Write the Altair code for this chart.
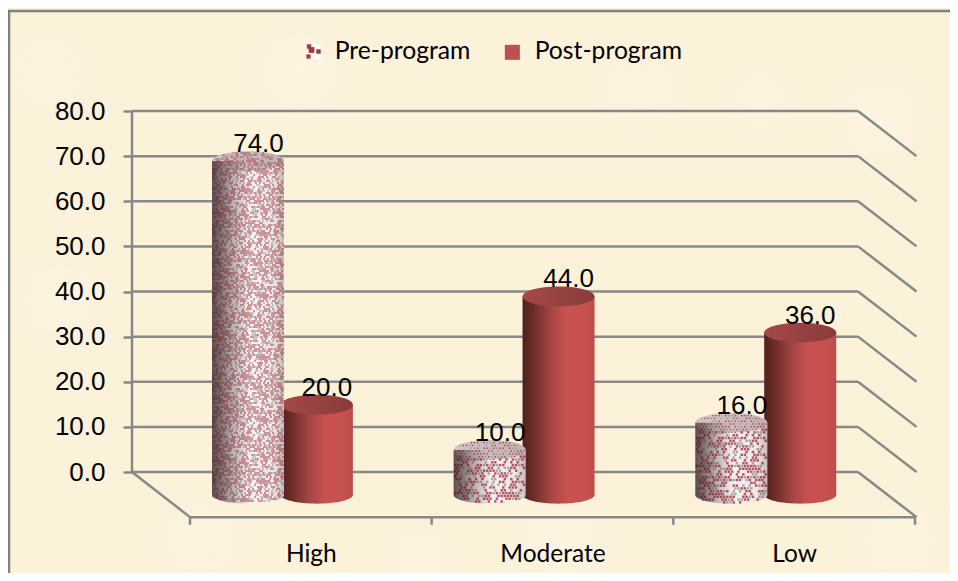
import math
import altair as alt
import pandas as pd

# ---- values ----
categories = ["High", "Moderate", "Low"]
pre_values = [74.0, 10.0, 16.0]
post_values = [20.0, 44.0, 36.0]
series_names = ["Pre-program", "Post-program"]
tick_values = [0, 10, 20, 30, 40, 50, 60, 70, 80]

# ---- layout / style ----
W, H = 942, 565
OX, OY = 8, 8
PX_U = 241.67   # px per category
PX_V = 4.5125   # px per value unit
U0_PX, V0_PY = 190, 472
CREAM = "#fcf1d9"
GRID = "#888888"
DEPTH = 23
R = 36
CAP = 0.275
BASE = 0.24
PRE_C, POST_C = 0.24, 0.525
COL_W = 72 / PX_U
WALL = -58 / PX_U


def ux(px):
    return (px - U0_PX) / PX_U


def vy(py):
    return (V0_PY - py) / PX_V


x_scale = alt.Scale(domain=[ux(OX), ux(OX + W)], nice=False, zero=False)
y_scale = alt.Scale(domain=[vy(OY + H), vy(OY)], nice=False, zero=False)

x_axis = alt.Axis(
    values=[0.5, 1.5, 2.5], offset=-(OY + H - 517), domain=False, grid=False, ticks=False, zindex=1,
    labelExpr="['High','Moderate','Low'][datum.value - 0.5]",
    labelPadding=25, labelFontSize=24.5, labelFont="Lato", labelColor="#000000", title=None)
y_axis = alt.Axis(
    values=tick_values, format=".1f", offset=-(132 - OX), domain=False, grid=False, zindex=1,
    tickSize=9, tickColor=GRID, tickWidth=2.5, labelPadding=18,
    labelFontSize=26, labelFont="Liberation Sans", labelColor="#000000", title=None)


def X(f):
    return alt.X(f, type="quantitative", scale=x_scale, axis=x_axis)


def X2(f):
    return alt.X2(f)


def Y(f):
    return alt.Y(f, type="quantitative", scale=y_scale, axis=y_axis)


def grad(stops):
    return alt.LinearGradient(
        gradient="linear", x1=0, x2=1, y1=0, y2=0,
        stops=[alt.GradientStop(color=c, offset=o) for o, c in stops],
    )


POST_SIDE = grad([(0, "#4f201f"), (0.14, "#6b2b2a"), (0.4, "#a54644"), (0.62, "#c95250"), (0.92, "#c4504e"), (1, "#b94d4a")])
POST_CAP = grad([(0, "#a64846"), (0.5, "#974241"), (1, "#893b3a")])
PRE_SIDE = grad([(0, "#b3a6a7"), (0.2, "#d4c9c9"), (0.55, "#f7f2f2"), (0.85, "#efe6e6"), (1, "#dcd2d2")])
PRE_CAP = grad([(0, "#d3c4c5"), (1, "#c4b2b3")])
PRE_SHADE = grad([(0, "rgba(45,25,25,0.62)"), (0.12, "rgba(45,25,25,0.45)"), (0.3, "rgba(45,25,25,0.18)"), (0.5, "rgba(45,25,25,0)"), (0.85, "rgba(45,25,25,0)"), (1, "rgba(45,25,25,0.12)")])
SPOT = alt.RadialGradient(
    gradient="radial", r1=0, r2=0.5,
    stops=[alt.GradientStop(color="rgba(255,250,242,0.32)", offset=0),
           alt.GradientStop(color="rgba(255,250,242,0)", offset=1)],
)

ELL_CAP = f"M-1,0A1,{CAP},0,1,1,1,0A1,{CAP},0,1,1,-1,0Z"
HALF_BASE = f"M-1,0A1,{BASE},0,0,0,1,0Z"
CIRCLE_BOX = "M-1,-1H1V1H-1Z"

# ---- tables ----
bars = pd.DataFrame({
    "cat": [i + 0.5 for i in range(3)],
    "pre": pre_values,
    "post": post_values,
})
bars["i"] = range(3)
bars["zero"] = 0
bars["pre_c"] = bars["i"] + PRE_C
bars["post_c"] = bars["i"] + POST_C
bars["pre_l"] = bars["pre_c"] - COL_W / 2
bars["pre_r"] = bars["pre_c"] + COL_W / 2
bars["post_l"] = bars["post_c"] - COL_W / 2
bars["post_r"] = bars["post_c"] + COL_W / 2
bars["pre_lab"] = bars["pre_c"] + 10.5 / PX_U
bars["post_lab"] = bars["post_c"] + 10 / PX_U

walls = pd.DataFrame({"v": tick_values})
walls["a"] = WALL
walls["b"] = ux(858)
walls["c"] = ux(916.5)
walls["v2"] = walls["v"] - 10

# stipple of the pre-program cylinders, one lattice per cylinder
reds, greys = [], []
for i, v in enumerate(pre_values):
    px = 2.0 if v > 50 else 3.2
    py = 2.0 if v > 50 else 2.8
    sz = 2.4 if v > 50 else 6.0
    top = -v * PX_V
    n_rows = int((-top + 20) / py) + 2
    for r in range(n_rows):
        dy = top - 10 + r * py
        for c in range(int(2 * R / px) + 2):
            dx = -R + c * px + (px / 2 if r % 2 else 0)
            if abs(dx) >= R - 0.8:
                continue
            q = math.sqrt(1 - (dx / R) ** 2)
            if dy < top - CAP * R * q + 0.8 or dy > BASE * R * q - 0.8:
                continue
            in_cap = dy < top + CAP * R * q
            row = {"u": i + PRE_C + dx / PX_U, "v": -dy / PX_V, "s": 2.0 if in_cap else sz}
            k = (7 * c * c + 13 * r * r + 5 * c * r + 3 * c + r) % 31
            if k < 13:
                reds.append(row)
            elif k < 20:
                greys.append(row)
reds = pd.DataFrame(reds)
greys = pd.DataFrame(greys)

blotches = pd.DataFrame({
    "u": [ux(309), ux(311.5), ux(318.5), ux(308.5)],
    "v": [vy(46.5), vy(50), vy(51.5), vy(56.5)],
    "s": [20, 34, 20, 18],
})
swatch = pd.DataFrame({"u": [ux(313.5)], "v": [vy(51.5)]})

backdrop = pd.DataFrame({"a": [ux(OX)], "b": [ux(OX + W)], "c": [vy(OY)], "d": [vy(OY + H)]})
spots = pd.DataFrame({
    "u": [ux(p) for p in [48, 300, 640, 880, 60, 200, 560, 900, 760, 420]],
    "v": [vy(p) for p in [72, 70, 90, 120, 300, 540, 545, 540, 100, 560]],
    "s": [12000, 16000, 14000, 16000, 14000, 14000, 16000, 14000, 9000, 9000],
})

# ---- marks ----
base = alt.Chart(bars)
bg = alt.Chart(backdrop).mark_rect(fill=CREAM).encode(x=X("a"), x2=X2("b"), y=Y("c"), y2=alt.Y2("d"))
parchment = alt.Chart(spots).mark_point(shape=CIRCLE_BOX, filled=True, fill=SPOT, opacity=1, strokeWidth=0, clip=True).encode(
    x=X("u"), y=Y("v"), size=alt.Size("s:Q", scale=None))
frame_l = alt.Chart(pd.DataFrame({"u": [ux(9)], "a": [vy(11)], "b": [vy(OY + H)]})).mark_rule(
    color="#808080", strokeWidth=2.5).encode(x=X("u"), y=Y("a"), y2=alt.Y2("b"))
frame_t = alt.Chart(pd.DataFrame({"a": [ux(OX)], "b": [ux(OX + W)], "v": [vy(11)]})).mark_rule(
    color="#808080", strokeWidth=2.5).encode(x=X("a"), x2=X2("b"), y=Y("v"))

grid = alt.Chart(walls).mark_rule(color=GRID, strokeWidth=2.5).encode(
    x=X("a"), x2=X2("b"), y=Y("v"))
side = alt.Chart(walls).mark_rule(color=GRID, strokeWidth=2.5).encode(
    x=X("b"), x2=X2("c"), y=Y("v"), y2=alt.Y2("v2"))
wall_edge = alt.Chart(pd.DataFrame({"a": [WALL], "v0": [0], "v1": [80]})).mark_rule(
    color=GRID, strokeWidth=2.5).encode(x=X("a"), y=Y("v0"), y2=alt.Y2("v1"))
floor_edge = alt.Chart(pd.DataFrame({"a": [WALL], "b": [0], "v0": [0], "v1": [-10]})).mark_rule(
    color=GRID, strokeWidth=2.5).encode(x=X("a"), x2=X2("b"), y=Y("v0"), y2=alt.Y2("v1"))
floor_front = alt.Chart(pd.DataFrame({"a": [0], "b": [3], "v": [-10]})).mark_rule(
    color=GRID, strokeWidth=2.5).encode(x=X("a"), x2=X2("b"), y=Y("v"))
cat_ticks = alt.Chart(pd.DataFrame({"u": [0, 1, 2, 3], "v": [-10] * 4, "v2": [-11.7] * 4})).mark_rule(
    color=GRID, strokeWidth=2.5).encode(x=X("u"), y=Y("v"), y2=alt.Y2("v2"))


def cyl(cf, lf, rf, vf, side_fill, cap_fill):
    return [
        base.mark_point(shape=HALF_BASE, size=5184, filled=True, fill=side_fill, opacity=1,
                        strokeWidth=0, yOffset=DEPTH).encode(x=X(cf), y=Y("zero")),
        base.mark_rect(fill=side_fill, yOffset=DEPTH, y2Offset=DEPTH).encode(
            x=X(lf), x2=X2(rf), y=Y(vf), y2=alt.Y2("zero")),
        base.mark_point(shape=ELL_CAP, size=5184, filled=True, fill=cap_fill, opacity=1,
                        strokeWidth=0, yOffset=DEPTH).encode(x=X(cf), y=Y(vf)),
    ]


post_layers = cyl("post_c", "post_l", "post_r", "post", POST_SIDE, POST_CAP)
pre_layers = cyl("pre_c", "pre_l", "pre_r", "pre", PRE_SIDE, PRE_CAP)

stipple_red = alt.Chart(reds).mark_square(color="#a32c38", opacity=0.78, strokeWidth=0, yOffset=DEPTH).encode(
    x=X("u"), y=Y("v"), size=alt.Size("s:Q", scale=None))
stipple_grey = alt.Chart(greys).mark_square(color="#8d8788", opacity=0.7, strokeWidth=0, yOffset=DEPTH).encode(
    x=X("u"), y=Y("v"), size=alt.Size("s:Q", scale=None))
shade = [
    base.mark_rect(fill=PRE_SHADE, yOffset=DEPTH, y2Offset=DEPTH).encode(
        x=X("pre_l"), x2=X2("pre_r"), y=Y("pre"), y2=alt.Y2("zero")),
    base.mark_point(shape=HALF_BASE, size=5184, filled=True, fill=PRE_SHADE, opacity=1,
                    strokeWidth=0, yOffset=DEPTH).encode(x=X("pre_c"), y=Y("zero")),
]

label_style = dict(font="Liberation Sans", fontSize=26, color="#000000", baseline="middle", align="center", yOffset=6)
labels_post = base.mark_text(**label_style).encode(
    x=X("post_lab"), y=Y("post"), text=alt.Text("post:Q", format=".1f"))
labels_pre = base.mark_text(**label_style).encode(
    x=X("pre_lab"), y=Y("pre"), text=alt.Text("pre:Q", format=".1f"))

legend_layer = alt.Chart(pd.DataFrame({"s": series_names})).mark_square(size=0).encode(
    color=alt.Color("s:N", scale=alt.Scale(domain=series_names, range=["rgba(255,255,255,0)", "#c0504d"]),
                    legend=alt.Legend(orient="none", legendX=292, legendY=31.5, direction="horizontal",
                                      title=None, symbolType="square", symbolSize=225, symbolOpacity=1,
                                      symbolStrokeWidth=0, labelFont="Lato", labelFontSize=24.7,
                                      labelColor="#000000", labelOffset=10, columnPadding=29,
                                      labelLimit=300, symbolOffset=0)),
)
swatch_bg = alt.Chart(swatch).mark_square(size=225, color="#ffffff", opacity=1, strokeWidth=0).encode(
    x=X("u"), y=Y("v"))
blotch = alt.Chart(blotches).mark_square(color="#a33a3c", opacity=1, strokeWidth=0).encode(
    x=X("u"), y=Y("v"), size=alt.Size("s:Q", scale=None))

chart = alt.layer(
    bg, parchment, frame_l, frame_t, grid, side, wall_edge, floor_edge, floor_front, cat_ticks,
    *post_layers, *pre_layers, stipple_red, stipple_grey, *shade, labels_post, labels_pre,
    swatch_bg, blotch, legend_layer,
).properties(
    width=W, height=H,
    padding=0,
    autosize=alt.AutoSizeParams(type="none"),
).configure_view(stroke=None)

chart.save("out.html", embed_options={"renderer": "svg", "actions": False})
